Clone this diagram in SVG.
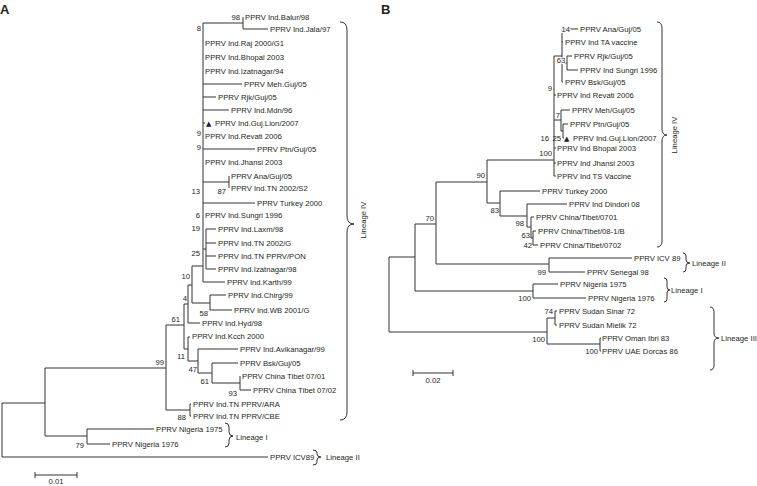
<svg xmlns="http://www.w3.org/2000/svg" width="757" height="486" viewBox="0 0 757 486">
<style>
text{font-family:"Liberation Sans",Arial,sans-serif;font-size:7.7px;fill:#231f20}
.e{text-anchor:end}
.m{text-anchor:middle}
.h{font-size:13px;font-weight:bold}
.halo{paint-order:stroke;stroke:#fff;stroke-width:2px}
.br{fill:none;stroke:#333;stroke-width:1}
.brace{fill:none;stroke:#333;stroke-width:1}
.tri{font-family:"DejaVu Sans","Liberation Sans",sans-serif;font-size:7px}
</style>
<rect width="757" height="486" fill="#fff"/>
<text class="h" x="0" y="14">A</text>
<text class="h" x="381" y="14">B</text>

<g id="connectors">
<path class="br" d="M2 403V457M2 403H45M2 457H268
M45 368V436M45 368H166M45 436H87
M87 429V444M87 429H154M87 444H110
M166 325V410M166 325H184M166 410H190
M190 404V416M190 404H191M190 416H191
M184 304V349M184 304H188M184 349H188
M188 285V323M188 285H192M188 323H200
M192 266V303M192 266H203M192 303H210
M210 295V310M210 295H226M210 310H232
M203 23V282M203 23H243M243 17V29M243 29H268
M203 84H242M203 97H216M203 110H229M203 123H205M203 149H255
M203 182H229M229 176V188M203 203H255
M203 249H206M206 229V269M206 229H216M206 243H216M206 256H216M206 269H216
M203 282H225
M188 337V361M188 337H190M188 361H198
M198 349V373M198 349H238M198 373H212
M212 363V383M212 363H238M212 383H240
M240 376V390M240 390H251"/>
<path class="br" d="M389 257V332M389 257H415M389 332H547
M415 224V291M415 224H436M415 291H533
M436 182V264M436 182H487M436 264H549
M549 258V272M549 258H632M549 272H585
M533 284V298M533 284H558M533 298H586
M547 318V344M547 318H555M547 344H600
M555 311V325M555 311H557M555 325H557
M600 338V351M600 338H601M600 351H601
M487 160V203M487 160H554M487 203H500
M500 191V216M500 191H540M500 216H527
M527 204V227M527 204H567M527 227H531
M531 217V238M531 217H534M531 238H533
M533 231V245M533 231H536M533 245H538
M554 56V176M554 56H562M554 120H561M554 95H556M554 148H556M554 163H556M554 176H556
M562 29V82M562 29H578M562 63H567M567 56V70M567 56H572M567 70H578M562 42H563M562 82H563
M561 110V131M561 110H570M561 131H563
M563 124V138M563 124H568M563 138H564"/>
<path class="br" d="M35 475H77M35 472V478M77 472V478"/>
<path class="br" d="M413 373H453M413 370V376M453 370V376"/>
</g>

<g id="braces">
<path class="brace" d="M340 22Q347 22 347 30V216Q347 224 354 224Q347 224 347 232V412Q347 420 340 420"/>
<path class="brace" d="M225 423Q229 423 229 427V432Q229 436 233 436Q229 436 229 440V443Q229 447 225 447"/>
<path class="brace" d="M313 450Q317 450 317 453V454Q317 457 321 457Q317 457 317 460V462Q317 465 313 465"/>
<path class="brace" d="M657 22Q662 22 662 28V129Q662 135 667 135Q662 135 662 141V241Q662 247 657 247"/>
<path class="brace" d="M683 253Q686 253 686 256V260Q686 263 690 263Q686 263 686 266V269Q686 272 683 272"/>
<path class="brace" d="M664 278Q667 278 667 281V287Q667 290 670 290Q667 290 667 293V299Q667 302 664 302"/>
<path class="brace" d="M710 307Q714 307 714 312V333Q714 338 719 338Q714 338 714 343V365Q714 370 710 370"/>
</g>

<g id="clade-labels">
<text class="m" transform="translate(366 220) rotate(-90)">Lineage IV</text>
<text x="236" y="440">Lineage I</text>
<text x="326" y="460">Lineage II</text>
<text class="m" transform="translate(677 135) rotate(-90)">Lineage IV</text>
<text x="692" y="266">Lineage II</text>
<text x="671" y="293">Lineage I</text>
<text x="721" y="341">Lineage III</text>
</g>

<g id="scale-bars">
<text class="m" x="56" y="484">0.01</text>
<text class="m" x="433" y="383">0.02</text>
</g>

<g id="bootstrap">
<text class="e" x="240" y="20">98</text>
<text class="e" x="201" y="31">8</text>
<text class="e" x="201" y="136">9</text>
<text class="e" x="201" y="150">9</text>
<text class="e" x="226" y="194">87</text>
<text class="e" x="200" y="194">13</text>
<text class="e" x="200" y="218">6</text>
<text class="e" x="200" y="231">19</text>
<text class="e" x="200" y="256">25</text>
<text class="e" x="190" y="279">10</text>
<text class="e" x="187" y="301">4</text>
<text class="e" x="208" y="316">58</text>
<text class="e" x="180" y="322">61</text>
<text class="e" x="185" y="359">11</text>
<text class="e" x="197" y="372">47</text>
<text class="e" x="209" y="384">61</text>
<text class="e" x="237" y="396">93</text>
<text class="e" x="164" y="365">99</text>
<text class="e" x="186" y="420">88</text>
<text class="e" x="84" y="448">79</text>
<text class="e halo" x="570" y="32">14</text>
<text class="m halo" x="561" y="63">63</text>
<text class="e" x="552" y="91">9</text>
<text class="m" x="558" y="118">7</text>
<text class="e" x="549" y="141">16</text>
<text class="e" x="561" y="141">25</text>
<text class="e" x="552" y="156">100</text>
<text class="e" x="485" y="178">90</text>
<text class="e" x="499" y="213">83</text>
<text class="e" x="524" y="226">98</text>
<text class="e" x="530" y="238">63</text>
<text class="e" x="532" y="248">42</text>
<text class="e" x="434" y="221">70</text>
<text class="e" x="546" y="275">99</text>
<text class="e" x="531" y="301">100</text>
<text class="e" x="553" y="314">74</text>
<text class="e" x="545" y="342">100</text>
<text class="e" x="598" y="354">100</text>
</g>

<g id="tree-a-leaves">
<g id="a-balur98"><text x="245" y="20">PPRV Ind.Balur/98</text></g>
<g id="a-jala97"><text x="270" y="32">PPRV Ind.Jala/97</text></g>
<g id="a-raj2000"><text x="205" y="46">PPRV Ind.Raj 2000/G1</text></g>
<g id="a-bhopal2003"><text x="205" y="60">PPRV Ind.Bhopal 2003</text></g>
<g id="a-izatnagar94"><text x="205" y="74">PPRV Ind.Izatnagar/94</text></g>
<g id="a-meh"><text x="244" y="87">PPRV Meh.Guj/05</text></g>
<g id="a-rjk"><text x="218" y="100">PPRV Rjk/Guj/05</text></g>
<g id="a-mdn96"><text x="231" y="113">PPRV Ind.Mdn/96</text></g>
<g id="a-lion"><text class="tri" x="206" y="126">▲</text><text x="215" y="126">PPRV Ind.Guj.Lion/2007</text></g>
<g id="a-revati"><text x="205" y="139">PPRV Ind.Revati 2006</text></g>
<g id="a-ptn"><text x="257" y="152">PPRV Ptn/Guj/05</text></g>
<g id="a-jhansi"><text x="205" y="165">PPRV Ind.Jhansi 2003</text></g>
<g id="a-ana"><text x="231" y="179">PPRV Ana/Guj/05</text></g>
<g id="a-tn2002s2"><text x="231" y="191">PPRV Ind.TN 2002/S2</text></g>
<g id="a-turkey"><text x="257" y="206">PPRV Turkey 2000</text></g>
<g id="a-sungri"><text x="205" y="218">PPRV Ind.Sungri 1996</text></g>
<g id="a-laxm"><text x="218" y="232">PPRV Ind.Laxm/98</text></g>
<g id="a-tn2002g"><text x="218" y="246">PPRV Ind.TN 2002/G</text></g>
<g id="a-pon"><text x="218" y="259">PPRV Ind.TN PPRV/PON</text></g>
<g id="a-izatnagar98"><text x="218" y="272">PPRV Ind.Izatnagar/98</text></g>
<g id="a-karth"><text x="227" y="285">PPRV Ind.Karth/99</text></g>
<g id="a-chirg"><text x="228" y="298">PPRV Ind.Chirg/99</text></g>
<g id="a-wb"><text x="234" y="313">PPRV Ind.WB 2001/G</text></g>
<g id="a-hyd"><text x="202" y="326">PPRV Ind.Hyd/98</text></g>
<g id="a-kcch"><text x="192" y="339">PPRV Ind.Kcch 2000</text></g>
<g id="a-avik"><text x="240" y="352">PPRV Ind.Avikanagar/99</text></g>
<g id="a-bsk"><text x="240" y="366">PPRV Bsk/Guj/05</text></g>
<g id="a-tibet01"><text x="242" y="379">PPRV China Tibet 07/01</text></g>
<g id="a-tibet02"><text x="253" y="393">PPRV China Tibet 07/02</text></g>
<g id="a-ara"><text x="193" y="407">PPRV Ind.TN PPRV/ARA</text></g>
<g id="a-cbe"><text x="193" y="419">PPRV Ind.TN PPRV/CBE</text></g>
<g id="a-nig75"><text x="156" y="432">PPRV Nigeria 1975</text></g>
<g id="a-nig76"><text x="112" y="447">PPRV Nigeria 1976</text></g>
<g id="a-icv89"><text x="270" y="460">PPRV ICV89</text></g>
</g>

<g id="tree-b-leaves">
<g id="b-ana"><text x="580" y="32">PPRV Ana/Guj/05</text></g>
<g id="b-ta"><text x="565" y="45">PPRV Ind TA vaccine</text></g>
<g id="b-rjk"><text x="574" y="59">PPRV Rjk/Guj/05</text></g>
<g id="b-sungri"><text x="580" y="73">PPRV Ind Sungri 1996</text></g>
<g id="b-bsk"><text x="565" y="85">PPRV Bsk/Guj/05</text></g>
<g id="b-revati"><text x="557" y="98">PPRV Ind Revati 2006</text></g>
<g id="b-meh"><text x="572" y="113">PPRV Meh/Guj/05</text></g>
<g id="b-ptn"><text x="570" y="127">PPRV Ptn/Guj/05</text></g>
<g id="b-lion"><text class="tri" x="564" y="141">▲</text><text x="573" y="141">PPRV Ind.Guj.Lion/2007</text></g>
<g id="b-bhopal"><text x="557" y="151">PPRV Ind Bhopal 2003</text></g>
<g id="b-jhansi"><text x="557" y="166">PPRV Ind Jhansi 2003</text></g>
<g id="b-ts"><text x="557" y="179">PPRV Ind TS Vaccine</text></g>
<g id="b-turkey"><text x="542" y="194">PPRV Turkey 2000</text></g>
<g id="b-dindori"><text x="569" y="207">PPRV Ind Dindori 08</text></g>
<g id="b-tibet0701"><text x="536" y="220">PPRV China/Tibet/0701</text></g>
<g id="b-tibet081b"><text x="538" y="234">PPRV China/Tibet/08-1/B</text></g>
<g id="b-tibet0702"><text x="540" y="248">PPRV China/Tibet/0702</text></g>
<g id="b-icv89"><text x="634" y="261">PPRV ICV 89</text></g>
<g id="b-senegal"><text x="587" y="275">PPRV Senegal 98</text></g>
<g id="b-nig75"><text x="560" y="287">PPRV Nigeria 1975</text></g>
<g id="b-nig76"><text x="588" y="301">PPRV Nigeria 1976</text></g>
<g id="b-sinar"><text x="559" y="314">PPRV Sudan Sinar 72</text></g>
<g id="b-mielik"><text x="559" y="328">PPRV Sudan Mielik 72</text></g>
<g id="b-oman"><text x="602" y="341">PPRV Oman Ibri 83</text></g>
<g id="b-uae"><text x="602" y="354">PPRV UAE Dorcas 86</text></g>
</g>
</svg>
